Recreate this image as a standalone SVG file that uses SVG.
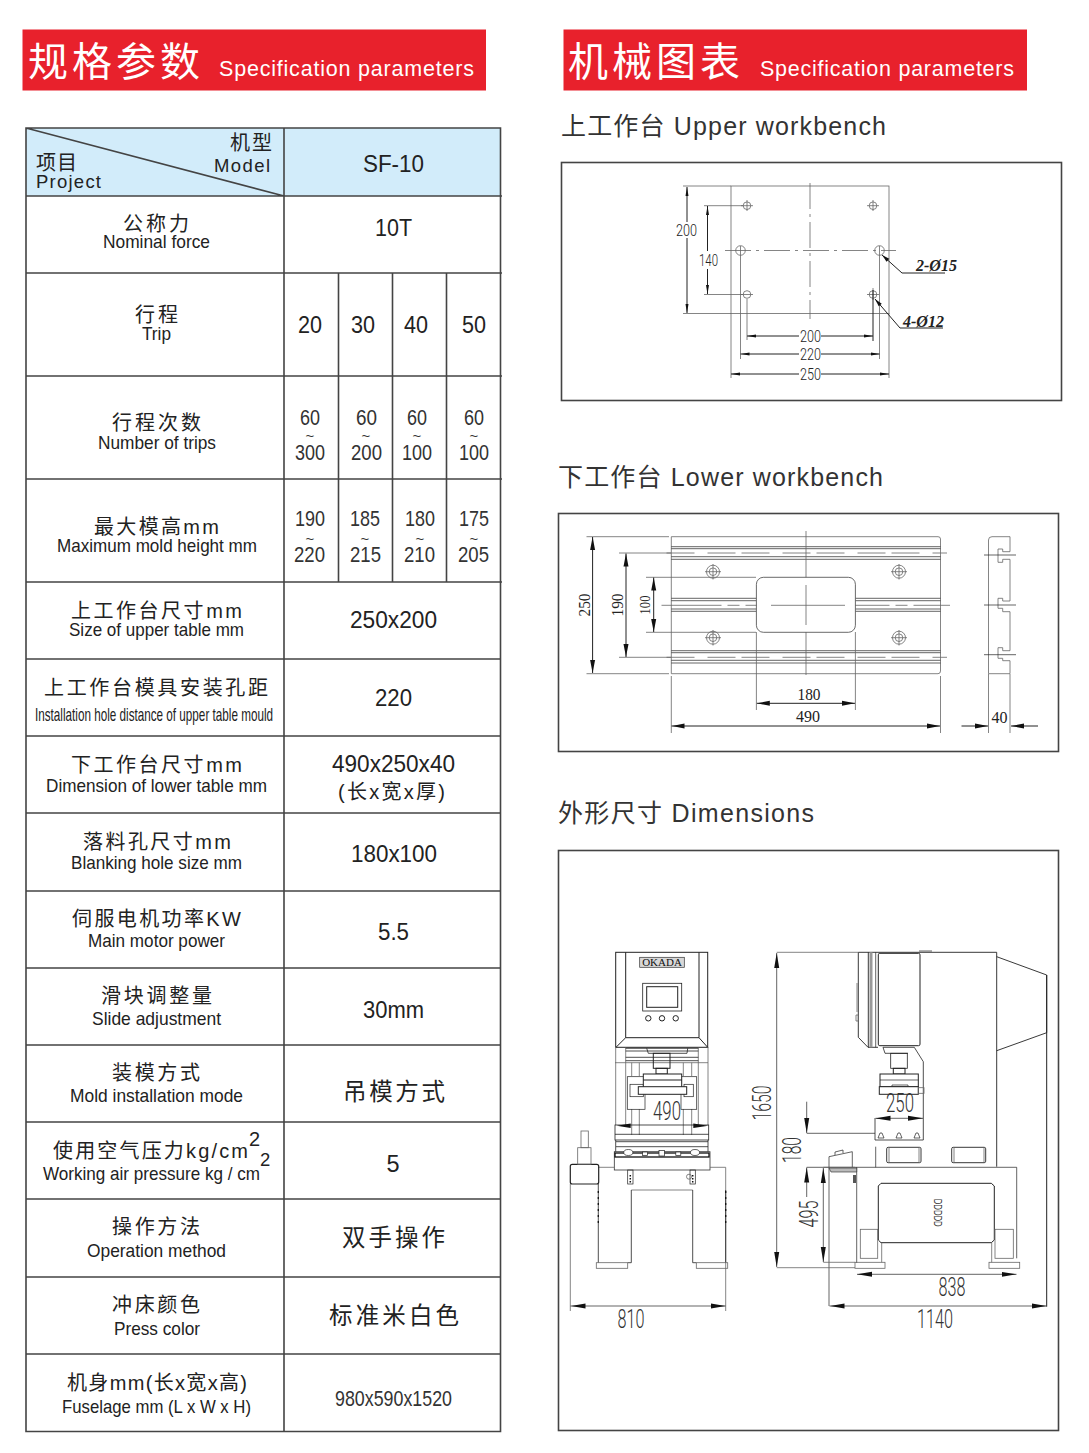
<svg xmlns="http://www.w3.org/2000/svg" width="1089" height="1453" viewBox="0 0 1089 1453">
<style>
text{font-family:"Liberation Sans","Noto Sans CJK SC",sans-serif;fill:#222}
.t{font-size:20px}.e{font-size:18.500px}.v{font-size:23.500px}.s{font-size:22.500px;fill:#333}.w{font-size:15px;fill:#333}
.c{text-anchor:middle}
.h{fill:#fff;font-size:40px}.hs{fill:#fff;font-size:21.500px}.st{font-size:25px;fill:#333}
.d{font-family:Roboto,"Liberation Sans",sans-serif;font-weight:300;font-size:16px;fill:#222}
.f{font-family:"Liberation Serif",serif;font-size:17px;fill:#222;text-anchor:middle}
.b{font-family:Roboto,"Liberation Sans",sans-serif;font-weight:300;font-size:25px;fill:#333;text-anchor:middle}
.i{font-family:"Liberation Serif",serif;font-style:italic;font-weight:bold;font-size:16px;fill:#222}
.tb{stroke:#444;stroke-width:1.6;fill:none}
.g{stroke:#666;stroke-width:.8;fill:none}
.k{stroke:#222;stroke-width:1;fill:none}
.box{fill:#fff;stroke:#444;stroke-width:1.6}
.cl{stroke:#666;stroke-width:.8;fill:none;stroke-dasharray:26 5 3 5}
.hd{fill:#e8212c}
</style>
<defs>
<marker id="as" markerUnits="userSpaceOnUse" markerWidth="10" markerHeight="6" refX="0" refY="3" orient="auto" viewBox="0 0 10 6"><path d="M0 3L9 1.500V4.500Z" fill="#111"/></marker>
<marker id="asr" markerUnits="userSpaceOnUse" markerWidth="10" markerHeight="6" refX="9" refY="3" orient="auto" viewBox="0 0 10 6"><path d="M9 3L0 1.500V4.500Z" fill="#111"/></marker>
<marker id="am" markerUnits="userSpaceOnUse" markerWidth="14" markerHeight="8" refX="0" refY="4" orient="auto" viewBox="0 0 14 8"><path d="M0 4L13 1.500V6.500Z" fill="#111"/></marker>
<marker id="ab" markerUnits="userSpaceOnUse" markerWidth="16" markerHeight="8" refX="0" refY="4" orient="auto" viewBox="0 0 16 8"><path d="M0 4L15 1.500V6.500Z" fill="#111"/></marker>
<marker id="ar" markerUnits="userSpaceOnUse" markerWidth="14" markerHeight="8" refX="13" refY="4" orient="auto" viewBox="0 0 14 8"><path d="M13 4L0 1.500V6.500Z" fill="#111"/></marker>
<marker id="abr" markerUnits="userSpaceOnUse" markerWidth="16" markerHeight="8" refX="15" refY="4" orient="auto" viewBox="0 0 16 8"><path d="M15 4L0 1.500V6.500Z" fill="#111"/></marker>
<marker id="ag" markerUnits="userSpaceOnUse" markerWidth="10" markerHeight="6" refX="0" refY="3" orient="auto" viewBox="0 0 10 6"><path d="M0 3L8 1V5Z" fill="#111"/></marker>
</defs>
<rect width="1089" height="1453" fill="#fff"/>

<g id="header-left">
<rect class="hd" x="22.500" y="29.500" width="463.500" height="61"/>
<text class="h" x="28" y="76" textLength="172">规格参数</text>
<text class="hs" x="219" y="76" textLength="255">Specification parameters</text>
</g>
<g id="header-right">
<rect class="hd" x="563.500" y="29.500" width="463.500" height="61"/>
<text class="h" x="568" y="76" textLength="172">机械图表</text>
<text class="hs" x="760" y="76" textLength="254">Specification parameters</text>
</g>

<g id="table">
<rect x="26" y="128" width="474.500" height="68" fill="#d2ecfa"/>
<path class="tb" d="M26 128H500.500V1431.500H26ZM26 196H502M26 273H502M26 376H502M26 479H502M26 582H502M26 659H501M26 736H501M26 813H501M26 891H501M26 968H501M26 1045H501M26 1122H501M26 1199H501M26 1277H501M26 1354H501M284 128V1431.500M338.500 273V582M392.500 273V582M446.500 273V582M26 128L284 196"/>

<g id="row-head">
<text class="t" x="230" y="150" textLength="42">机型</text>
<text class="t" x="36" y="170" textLength="41">项目</text>
<text class="e" x="214" y="172" textLength="56">Model</text>
<text class="e" x="36" y="188" textLength="65">Project</text>
<text class="v" x="363" y="172" textLength="61" lengthAdjust="spacingAndGlyphs">SF-10</text>
</g>
<g id="row-force">
<text class="t" x="123" y="231" textLength="66">公称力</text>
<text class="e" x="103" y="248" textLength="107" lengthAdjust="spacingAndGlyphs">Nominal force</text>
<text class="v" x="375" y="236" textLength="37" lengthAdjust="spacingAndGlyphs">10T</text>
</g>
<g id="row-trip">
<text class="t" x="135" y="322" textLength="43">行程</text>
<text class="e" x="142" y="340" textLength="29" lengthAdjust="spacingAndGlyphs">Trip</text>
<text class="v" x="298" y="333" textLength="24" lengthAdjust="spacingAndGlyphs">20</text><text class="v" x="351" y="333" textLength="24" lengthAdjust="spacingAndGlyphs">30</text><text class="v" x="404" y="333" textLength="24" lengthAdjust="spacingAndGlyphs">40</text><text class="v" x="462" y="333" textLength="24" lengthAdjust="spacingAndGlyphs">50</text>
</g>
<g id="row-trips">
<text class="t" x="112" y="430" textLength="89">行程次数</text>
<text class="e" x="98" y="449" textLength="118" lengthAdjust="spacingAndGlyphs">Number of trips</text>
<text class="s" x="300" y="425" textLength="20" lengthAdjust="spacingAndGlyphs">60</text><text class="s" x="356" y="425" textLength="21" lengthAdjust="spacingAndGlyphs">60</text><text class="s" x="407" y="425" textLength="20" lengthAdjust="spacingAndGlyphs">60</text><text class="s" x="464" y="425" textLength="20" lengthAdjust="spacingAndGlyphs">60</text>
<text class="w c" x="310" y="441">~</text><text class="w c" x="366" y="441">~</text><text class="w c" x="417" y="441">~</text><text class="w c" x="474" y="441">~</text>
<text class="s" x="295" y="460" textLength="30" lengthAdjust="spacingAndGlyphs">300</text><text class="s" x="351" y="460" textLength="31" lengthAdjust="spacingAndGlyphs">200</text><text class="s" x="402" y="460" textLength="30" lengthAdjust="spacingAndGlyphs">100</text><text class="s" x="459" y="460" textLength="30" lengthAdjust="spacingAndGlyphs">100</text>
</g>
<g id="row-height">
<text class="t" x="94" y="534" textLength="125">最大模高mm</text>
<text class="e" x="57" y="552" textLength="200" lengthAdjust="spacingAndGlyphs">Maximum mold height mm</text>
<text class="s" x="295" y="526" textLength="30" lengthAdjust="spacingAndGlyphs">190</text><text class="s" x="350" y="526" textLength="30" lengthAdjust="spacingAndGlyphs">185</text><text class="s" x="405" y="526" textLength="30" lengthAdjust="spacingAndGlyphs">180</text><text class="s" x="459" y="526" textLength="30" lengthAdjust="spacingAndGlyphs">175</text>
<text class="w c" x="310" y="544">~</text><text class="w c" x="365" y="544">~</text><text class="w c" x="420" y="544">~</text><text class="w c" x="474" y="544">~</text>
<text class="s" x="294" y="562" textLength="31" lengthAdjust="spacingAndGlyphs">220</text><text class="s" x="350" y="562" textLength="31" lengthAdjust="spacingAndGlyphs">215</text><text class="s" x="404" y="562" textLength="31" lengthAdjust="spacingAndGlyphs">210</text><text class="s" x="458" y="562" textLength="31" lengthAdjust="spacingAndGlyphs">205</text>
</g>
<g id="row-upper-size">
<text class="t" x="71" y="618" textLength="171">上工作台尺寸mm</text>
<text class="e" x="69" y="636" textLength="175" lengthAdjust="spacingAndGlyphs">Size of upper table mm</text>
<text class="v" x="350" y="628" textLength="87" lengthAdjust="spacingAndGlyphs">250x200</text>
</g>
<g id="row-upper-hole">
<text class="t" x="44" y="695" textLength="224">上工作台模具安装孔距</text>
<text class="e" x="35" y="721" textLength="238" lengthAdjust="spacingAndGlyphs">Installation hole distance of upper table mould</text>
<text class="v" x="375" y="706" textLength="37" lengthAdjust="spacingAndGlyphs">220</text>
</g>
<g id="row-lower-size">
<text class="t" x="71" y="772" textLength="171">下工作台尺寸mm</text>
<text class="e" x="46" y="792" textLength="221" lengthAdjust="spacingAndGlyphs">Dimension of lower table mm</text>
<text class="v" x="332" y="772" textLength="123" lengthAdjust="spacingAndGlyphs">490x250x40</text>
<text class="t" x="338" y="799" textLength="107">(长x宽x厚)</text>
</g>
<g id="row-blank">
<text class="t" x="83" y="849" textLength="148">落料孔尺寸mm</text>
<text class="e" x="71" y="869" textLength="171" lengthAdjust="spacingAndGlyphs">Blanking hole size mm</text>
<text class="v" x="351" y="862" textLength="86" lengthAdjust="spacingAndGlyphs">180x100</text>
</g>
<g id="row-motor">
<text class="t" x="72" y="926" textLength="169">伺服电机功率KW</text>
<text class="e" x="88" y="947" textLength="137" lengthAdjust="spacingAndGlyphs">Main motor power</text>
<text class="v" x="378" y="940" textLength="31" lengthAdjust="spacingAndGlyphs">5.5</text>
</g>
<g id="row-slide">
<text class="t" x="101" y="1003" textLength="111">滑块调整量</text>
<text class="e" x="92" y="1025" textLength="129" lengthAdjust="spacingAndGlyphs">Slide adjustment</text>
<text class="v" x="363" y="1018" textLength="61" lengthAdjust="spacingAndGlyphs">30mm</text>
</g>
<g id="row-mold">
<text class="t" x="112" y="1080" textLength="88">装模方式</text>
<text class="e" x="70" y="1102" textLength="173" lengthAdjust="spacingAndGlyphs">Mold installation mode</text>
<text class="v" x="343" y="1100" textLength="102">吊模方式</text>
</g>
<g id="row-air">
<text class="t" x="53" y="1158" textLength="195">使用空气压力kg/cm</text>
<text class="e" x="249" y="1146" style="font-size:20px">2</text>
<text class="e" x="43" y="1180" textLength="217" lengthAdjust="spacingAndGlyphs">Working air pressure kg / cm</text>
<text class="e" x="260" y="1166">2</text>
<text class="v c" x="393" y="1172">5</text>
</g>
<g id="row-operation">
<text class="t" x="112" y="1234" textLength="88">操作方法</text>
<text class="e" x="87" y="1257" textLength="139" lengthAdjust="spacingAndGlyphs">Operation method</text>
<text class="v" x="342" y="1246" textLength="103">双手操作</text>
</g>
<g id="row-color">
<text class="t" x="112" y="1312" textLength="88">冲床颜色</text>
<text class="e" x="114" y="1335" textLength="86" lengthAdjust="spacingAndGlyphs">Press color</text>
<text class="v" x="329" y="1324" textLength="130">标准米白色</text>
</g>
<g id="row-body">
<text class="t" x="67" y="1390" textLength="180">机身mm(长x宽x高)</text>
<text class="e" x="62" y="1413" textLength="189" lengthAdjust="spacingAndGlyphs">Fuselage mm (L x W x H)</text>
<text class="s" x="335" y="1406" textLength="117" lengthAdjust="spacingAndGlyphs">980x590x1520</text>
</g>
</g>

<text class="st" x="561" y="135" textLength="325">上工作台 Upper workbench</text>
<text class="st" x="558" y="486" textLength="325">下工作台 Lower workbench</text>
<text class="st" x="558" y="822" textLength="256">外形尺寸 Dimensions</text>

<g id="upper-workbench">
<rect class="box" x="561.500" y="162.500" width="500" height="238"/>
<rect class="g" x="731" y="186" width="158" height="127.500"/>
<path class="cl" d="M810 183V319M725 250.500H896"/>
<g class="g">
<circle cx="747" cy="205.700" r="3.800"/><circle cx="873" cy="205.700" r="3.800"/><circle cx="747" cy="294.500" r="3.800"/><circle cx="873" cy="294.500" r="3.800"/>
<circle cx="740.500" cy="250.500" r="4.800"/><circle cx="879.500" cy="250.500" r="4.800"/>
<path d="M741 205.700H753M747 200V211M867 205.700H879M873 200V211M741 294.500H753M867 294.500H879M873 288V300"/>
</g>
<path class="g" d="M683 186H731M683 313.500H731M704 205.700H743M704 294.500H743M747 299V340M740.500 246V359M879.500 246V359M731 313V378M889 313V378"/>
<path class="k" d="M873 290V341"/>
<path class="k" d="M687 187V222M687 238V313" marker-start="url(#as)" marker-end="url(#asr)"/>
<path class="k" d="M707.500 206V251M707.500 269V294" marker-start="url(#as)" marker-end="url(#asr)"/>
<path class="k" d="M747 336H799M821 336H873" marker-start="url(#as)" marker-end="url(#asr)"/>
<path class="k" d="M740.500 354H799M821 354H879.500" marker-start="url(#as)" marker-end="url(#asr)"/>
<path class="k" d="M731 374H799M821 374H889" marker-start="url(#as)" marker-end="url(#asr)"/>
<path class="k" d="M882 255L902 273H945" marker-start="url(#ag)"/>
<path class="k" d="M875 299L900 328H943" marker-start="url(#ag)"/>
<text class="d" x="676" y="236" textLength="21" lengthAdjust="spacingAndGlyphs">200</text>
<text class="d" x="699" y="266" textLength="19" lengthAdjust="spacingAndGlyphs">140</text>
<text class="d" x="800" y="342" textLength="21" lengthAdjust="spacingAndGlyphs">200</text>
<text class="d" x="800" y="360" textLength="21" lengthAdjust="spacingAndGlyphs">220</text>
<text class="d" x="800" y="380" textLength="21" lengthAdjust="spacingAndGlyphs">250</text>
<text class="i" x="916" y="271">2-Ø15</text>
<text class="i" x="903" y="327">4-Ø12</text>
</g>

<g id="lower-workbench">
<rect class="box" x="558.500" y="513.500" width="500" height="238"/>
<path class="g" d="M671.300 536.700H938Q940.500 536.700 940.500 539V671Q940.500 673.700 938 673.700H671.300Z"/>
<path class="k" stroke-width=".7" style="stroke-width:.7" d="M671.300 546.700H940.500M671.300 548.700H940.500M671.300 556.700H940.500M671.300 559.300H940.500M671.300 598.300H756.400M671.300 600.700H756.400M671.300 609H756.400M671.300 611.300H756.400M855.400 598.300H940.500M855.400 600.700H940.500M855.400 609H940.500M855.400 611.300H940.500M671.300 650.700H940.500M671.300 652.700H940.500M671.300 660.300H940.500M671.300 663H940.500"/>
<path class="g" stroke-dasharray="28 13 28 6" d="M666.500 553H947M666.500 657.300H947"/>
<path class="g" style="stroke-dasharray:60 6 12 6" d="M661.500 605.300H950M806 531V679"/>
<rect x="756.400" y="577.300" width="99" height="55" rx="7" fill="#fff" stroke="#444" stroke-width=".8"/>
<path class="g" d="M771 605.300H845M806 585V625"/>
<g class="g">
<circle cx="713" cy="571.700" r="6.500"/><circle cx="713" cy="571.700" r="3.800"/><path d="M705 571.700H721M713 564V579.500"/>
<circle cx="899" cy="571.700" r="6.500"/><circle cx="899" cy="571.700" r="3.800"/><path d="M891 571.700H907M899 564V579.500"/>
<circle cx="713" cy="637.700" r="6.500"/><circle cx="713" cy="637.700" r="3.800"/><path d="M705 637.700H721M713 630V645.500"/>
<circle cx="899" cy="637.700" r="6.500"/><circle cx="899" cy="637.700" r="3.800"/><path d="M891 637.700H907M899 630V645.500"/>
</g>
<path class="g" d="M1010 536.700H992Q988.500 536.700 988.500 540V673.700H1010V660.700H1002.700V658.300H998V647.700H1002.700V650.700H1010V611.700H1002.700V608.300H998V598.300H1002.700V601H1010V559.300H1002.700V562.300H998V549H1002.700V551.700H1010Z"/>
<path class="k" style="stroke-width:.7" d="M984 555H1016M984 605H1016M984 654.700H1016"/>
<path class="g" d="M586.500 536.700H669M586.500 673.700H669M619 553H671M619 657.300H671M646 577.300H756M646 632.300H756M756.400 632V710M855.400 632V710M671.300 676V733M940.500 676V733M988.500 674V733M1010 674V733"/>
<path class="k" d="M592.600 537V673" marker-start="url(#am)" marker-end="url(#ar)"/>
<path class="k" d="M626 553.500V657" marker-start="url(#am)" marker-end="url(#ar)"/>
<path class="k" d="M653.700 577.500V632" marker-start="url(#am)" marker-end="url(#ar)"/>
<path class="k" d="M756.800 703.300H855" marker-start="url(#am)" marker-end="url(#ar)"/>
<path class="k" d="M671.500 726H940" marker-start="url(#am)" marker-end="url(#ar)"/>
<path class="k" d="M961.500 726H988" marker-end="url(#ar)"/>
<path class="k" d="M1038 726H1011" marker-end="url(#ar)"/>
<text class="f" transform="translate(590 605) rotate(-90)" textLength="23" lengthAdjust="spacingAndGlyphs">250</text>
<text class="f" transform="translate(623 605) rotate(-90)" textLength="23" lengthAdjust="spacingAndGlyphs">190</text>
<text class="f" transform="translate(650 605) rotate(-90)" style="font-size:14px" textLength="19" lengthAdjust="spacingAndGlyphs">100</text>
<text class="f" x="809" y="700" textLength="23" lengthAdjust="spacingAndGlyphs">180</text>
<text class="f" x="808" y="722" textLength="24" lengthAdjust="spacingAndGlyphs">490</text>
<text class="f" x="999.500" y="723" textLength="16" lengthAdjust="spacingAndGlyphs">40</text>
</g>

<g id="dimensions">
<rect class="box" x="558.500" y="850.500" width="500" height="580"/>
<g id="front-view">
<rect class="k" x="615.700" y="952.300" width="92" height="95"/>
<path class="k" d="M625.700 952.300V1037.700H699V952.300M625.700 1037.700L616 1047.300M699 1037.700L707.700 1047.300"/>
<rect x="639.700" y="957.300" width="44.600" height="10" fill="#d8d8d8" stroke="#333" stroke-width=".7"/>
<text x="662" y="966" text-anchor="middle" style="font-family:'Liberation Serif',serif;font-size:11px;fill:#111">OKADA</text>
<rect class="k" x="642.700" y="983.300" width="39" height="27.700" style="stroke-width:.8"/>
<rect class="k" x="646.700" y="986.700" width="31" height="20.600"/>
<circle class="k" cx="648.300" cy="1018.300" r="2.700"/><circle class="k" cx="662" cy="1018.300" r="2.700"/><circle class="k" cx="675.700" cy="1018.300" r="2.700"/>
<path class="g" d="M615.700 1047.300V1125M708 1047.300V1125M615 1062.700H708M625.700 1047.300V1125M698.300 1047.300V1125M631.700 1062.700V1076M639.300 1062.700V1076M683.300 1062.700V1076M691.700 1062.700V1076M631.700 1109V1135M639.300 1109V1135M683.300 1109V1135M691.700 1109V1135"/>
<path class="k" style="stroke-width:.8" d="M625.700 1048.300H698.300M625.700 1051H698.300M625.700 1057.300H698.300M625.700 1060.700H698.300M646.700 1048.300L648.300 1053.300H687L687.700 1048.300"/>
<rect class="k" x="653.300" y="1053.300" width="16.700" height="15"/>
<rect class="k" x="656" y="1068.300" width="11.300" height="5.700"/>
<rect class="k" x="627.300" y="1076.700" width="17.700" height="32.600" style="stroke-width:.7"/>
<rect class="k" x="681" y="1076.700" width="15.700" height="32.600" style="stroke-width:.7"/>
<rect class="k" x="630" y="1084.300" width="13.300" height="12.400" style="stroke-width:.7"/>
<rect class="k" x="684" y="1084.300" width="9.300" height="12.400" style="stroke-width:.7"/>
<rect x="643.300" y="1074" width="38.400" height="15" fill="#fff" stroke="#222"/>
<path class="k" d="M643.300 1080H681.700"/>
<rect x="638.300" y="1086.700" width="48.400" height="7.600" fill="#fff" stroke="#222"/>
<rect class="k" x="615" y="1125" width="93.700" height="15" style="stroke-width:.8"/>
<path class="k" style="stroke-width:.8" d="M615 1134.300H708.700M616 1141.700H708M616 1146.700H708M615.700 1140V1152M708 1140V1152"/>
<rect x="614.300" y="1151.700" width="95.700" height="18.300" fill="#fff" stroke="#333" stroke-width=".8"/>
<rect x="615" y="1153" width="94" height="4" fill="none" stroke="#111" stroke-width="1.300"/>
<g fill="#fff" stroke="#222" stroke-width=".7">
<ellipse cx="628.300" cy="1152.500" rx="4.500" ry="3"/><ellipse cx="695" cy="1152.500" rx="4.500" ry="3"/>
<rect x="642.500" y="1152" width="5" height="3.500"/><rect x="659" y="1150.500" width="5.500" height="5.500"/><rect x="675.800" y="1152" width="5" height="3.500"/>
</g>
<path class="g" d="M598.300 1167.300H614M710 1167.300H725.700V1311M631.300 1190H692.700"/>
<path class="k" style="stroke-width:.8" d="M598.300 1184V1262.700M631.300 1190V1262.700H627.700M692.700 1190V1262.700H696.300M725.700 1190V1262.700"/>
<rect class="g" x="596.300" y="1262.700" width="31.400" height="5.600"/><rect class="g" x="696.300" y="1262.700" width="31.400" height="5.600"/>
<path d="M598.300 1191V1226M725.700 1191V1226" stroke="#111" stroke-width="1.300" stroke-dasharray="2 4" fill="none"/>
<rect class="k" x="627.700" y="1170" width="5.300" height="14" style="stroke-width:.7"/><rect class="k" x="690" y="1170" width="5.300" height="14" style="stroke-width:.7"/>
<path d="M630.300 1175V1183M692.700 1175V1183" stroke="#111" stroke-width="1.500" stroke-dasharray="1.500 1.500" fill="none"/>
<circle class="g" cx="689" cy="1176.700" r="2.500"/>
<rect x="570.300" y="1164.300" width="28.400" height="19.700" rx="2" fill="none" stroke="#222" stroke-width="1.200"/>
<rect class="g" x="577.700" y="1147.700" width="13.300" height="16.600"/>
<rect class="g" x="581" y="1131" width="7.300" height="16.700"/>
<path class="g" d="M570.300 1184V1311"/>
<path class="k" style="stroke-width:.7" d="M570.500 1306H725.500" marker-start="url(#ab)" marker-end="url(#abr)"/>
<path d="M616.700 1125.700L630.700 1123.500V1128ZM708.300 1125.700L693.300 1123.500V1128Z" fill="#111"/>
<text class="b" x="667" y="1120" textLength="28" lengthAdjust="spacingAndGlyphs">490</text>
<text class="b" x="631" y="1328" textLength="27" lengthAdjust="spacingAndGlyphs">810</text>
</g>
<g id="side-view">
<path class="k" style="stroke-width:.9" d="M858.300 952.300H996.700V1166.700M858.300 952.300V1037.300L868 1047.300H878M868.300 952.300V1047.300"/>
<path d="M871 952.300V1047.300" stroke="#999" stroke-width="3" fill="none"/>
<path class="k" style="stroke-width:.7" d="M875.700 952.300V1047.300M919 951H932"/>
<rect x="878.300" y="953.300" width="41.700" height="92.400" rx="1.500" fill="#fff" stroke="#222"/>
<path class="g" d="M856 1015H858.300V1021H856ZM857 983V1012"/>
<path class="k" style="stroke-width:.9" d="M996.700 956.700L1046.700 975V1032.700L996.700 1050.700"/>
<path class="k" d="M1046.700 975V1306.700"/>
<path class="k" style="stroke-width:.8" d="M883 1047.300H914.300L923.300 1061.700V1140H875V1118M883 1047.300L885 1053.300H908"/>
<rect class="k" x="890.700" y="1053.300" width="16.600" height="15" style="stroke-width:.8"/>
<rect class="k" x="893.300" y="1068.300" width="11.700" height="5.700"/>
<rect x="880" y="1074" width="38.300" height="12.700" fill="#fff" stroke="#222"/>
<path class="k" style="stroke-width:.7" d="M880 1080H918.300M892 1086.700V1085H908V1086.700"/>
<rect x="879.300" y="1086.700" width="39" height="7.600" fill="#fff" stroke="#222"/>
<rect class="g" x="918.300" y="1087.700" width="5.700" height="5.600"/>
<path d="M878 1138L880 1133H882L884 1138ZM896 1138L898 1133H900L902 1138ZM914 1138L916 1133H918L920 1138Z" fill="#fff" stroke="#222" stroke-width=".7"/>
<path class="k" style="stroke-width:.7" d="M875.700 1146.700V1167.300M806.700 1167.300H1016.700V1258.300M856.700 1167.300V1263M806.700 1133.300H875"/>
<rect class="k" x="886.700" y="1147.300" width="34.300" height="15.400" rx="1.500" style="stroke-width:.9"/><path class="g" d="M889 1147.300V1162.700M919 1147.300V1162.700"/>
<rect class="k" x="951.700" y="1147.300" width="34" height="15.400" rx="1.500" style="stroke-width:.9"/><path class="g" d="M954 1147.300V1162.700M984 1147.300V1162.700"/>
<path d="M881 1183.300H991.300L994.300 1186V1240L991.300 1242.700H881L878.300 1240V1186Z" fill="#fff" stroke="#222"/>
<text transform="translate(934 1212.700) rotate(90)" text-anchor="middle" style="font-size:10px;fill:#333" textLength="28" lengthAdjust="spacingAndGlyphs">DDDDD</text>
<rect class="g" x="860.300" y="1229.300" width="17.400" height="29"/>
<rect class="g" x="995" y="1229.300" width="18.300" height="29"/>
<path class="g" d="M881.700 1242.700V1262.300M991.700 1242.700V1262.300"/>
<rect class="g" x="855" y="1262.300" width="30" height="6"/>
<rect class="g" x="989" y="1262.300" width="30.700" height="6"/>
<path class="k" style="stroke-width:.7" d="M829 1156.700L852.300 1151.700V1167.300M829 1156.700V1306"/>
<path class="k" style="stroke-width:.7" d="M835 1155V1152L843 1150V1153"/>
<path d="M829 1168H856.700V1172H831Z" fill="#bbb" stroke="#222" stroke-width=".6"/>
<rect x="853" y="1175" width="3" height="8" fill="#555"/>
<path class="g" d="M776.700 952.300H858M776.700 1267.700H855M823.300 1167.300H855M823.300 1262.300H855"/>
<path class="k" style="stroke-width:.7" d="M776.700 953V1267" marker-start="url(#ab)" marker-end="url(#abr)"/>
<path class="k" style="stroke-width:.7" d="M823.300 1168V1262" marker-start="url(#ab)" marker-end="url(#abr)"/>
<path class="k" style="stroke-width:.7" d="M806.700 1101.700V1133" marker-end="url(#abr)"/>
<path class="k" style="stroke-width:.7" d="M806.700 1167.500V1197" marker-start="url(#ab)"/>
<path class="k" style="stroke-width:.7" d="M875.500 1118.300H923" marker-start="url(#ab)" marker-end="url(#abr)"/>
<path class="k" style="stroke-width:.7" d="M857 1274.300H1016.500" marker-start="url(#ab)" marker-end="url(#abr)"/>
<path class="k" style="stroke-width:.7" d="M829.500 1306H1046.500" marker-start="url(#ab)" marker-end="url(#abr)"/>
<text class="b" transform="translate(771 1103) rotate(-90)" textLength="35" lengthAdjust="spacingAndGlyphs">1650</text>
<text class="b" transform="translate(801 1150) rotate(-90)" textLength="26" lengthAdjust="spacingAndGlyphs">180</text>
<text class="b" transform="translate(818 1214) rotate(-90)" textLength="27" lengthAdjust="spacingAndGlyphs">495</text>
<text class="b" x="900" y="1112" textLength="28" lengthAdjust="spacingAndGlyphs">250</text>
<text class="b" x="952" y="1296" textLength="27" lengthAdjust="spacingAndGlyphs">838</text>
<text class="b" x="935" y="1328" textLength="36" lengthAdjust="spacingAndGlyphs">1140</text>
</g>
</g>
</svg>
